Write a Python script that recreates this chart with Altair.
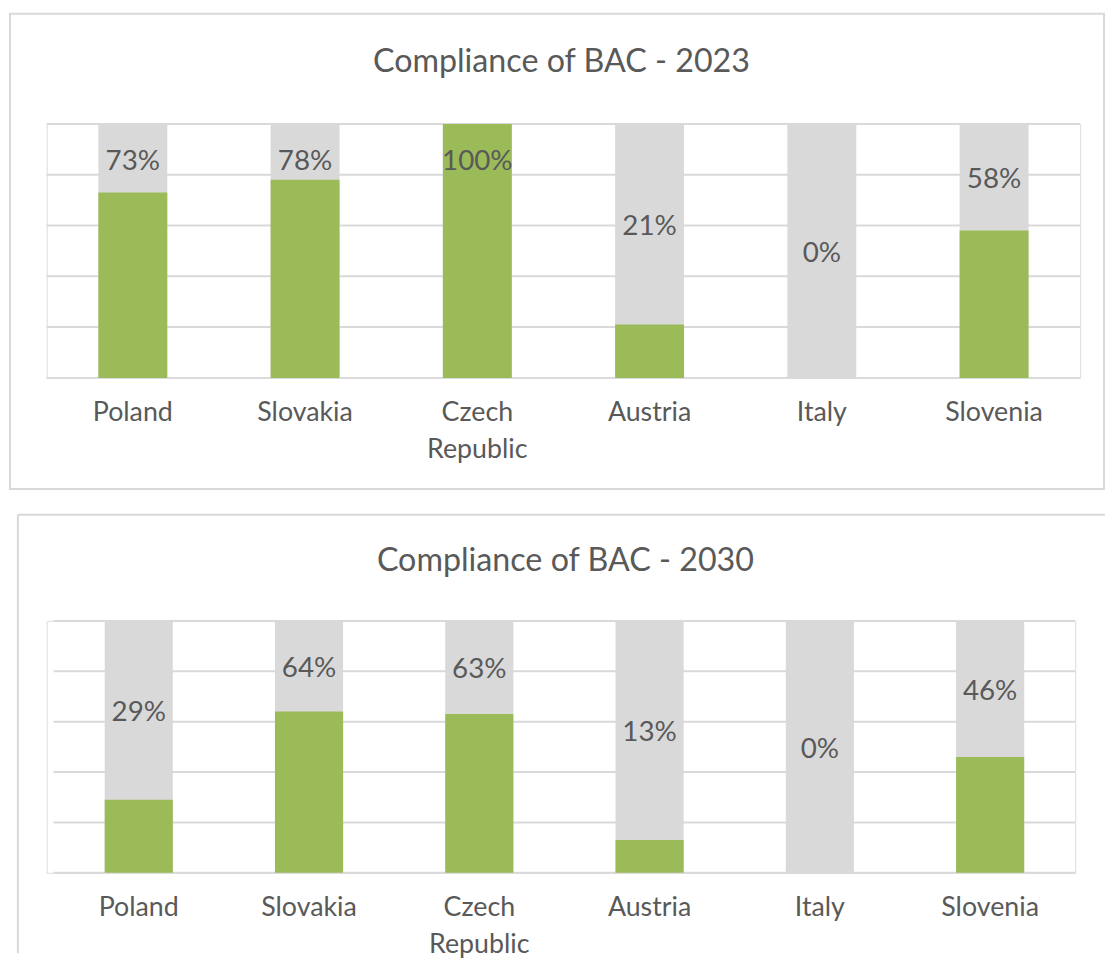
import altair as alt
import pandas as pd

countries = ["Poland", "Slovakia", "Czech Republic", "Austria", "Italy", "Slovenia"]
values_2023 = [0.73, 0.78, 1.00, 0.21, 0.00, 0.58]
values_2030 = [0.29, 0.64, 0.63, 0.13, 0.00, 0.46]
grid_values = [0, 0.2, 0.4, 0.6, 0.8, 1.0]
titles = ["Compliance of BAC - 2023", "Compliance of BAC - 2030"]

GREEN = "#9BBB59"
GRAY = "#D9D9D9"
TEXT = "#595959"
FONT = "Lato"


def make_df(vals):
    return pd.DataFrame({
        "country": countries,
        "value": vals,
        "full": [1.0] * len(vals),
        "label": [f"{round(v * 100)}%" for v in vals],
        "labpos": [min((1 + v) / 2, 0.86) for v in vals],
    })


def panel(vals, title, w, h, x0, box, closed=True):
    df = make_df(vals)
    x = alt.X("country:N", sort=countries, title=None,
              scale=alt.Scale(range=[x0, w], paddingInner=0.6, paddingOuter=0.3),
              axis=alt.Axis(labelExpr="split(datum.label, ' ')", labelAngle=0,
                            labelFontSize=27, labelColor=TEXT, labelFont=FONT,
                            labelLineHeight=37, labelPadding=22, ticks=False,
                            domain=False, grid=False))
    yscale = alt.Scale(domain=[0, 1], nice=False)
    base = alt.Chart(df)
    grid = alt.Chart(pd.DataFrame({"g": grid_values})).mark_rule(
        color=GRAY, strokeWidth=2).encode(
        y=alt.Y("g:Q", scale=yscale, axis=None), x=alt.value(x0), x2=alt.value(w))
    gray = base.mark_bar(color=GRAY).encode(x=x, y=alt.Y("full:Q", scale=yscale, axis=None))
    green = base.mark_bar(color=GREEN).encode(x=x, y=alt.Y("value:Q", scale=yscale))
    labels = base.mark_text(fontSize=28, color=TEXT, font=FONT, baseline="middle", dy=3).encode(
        x=x, y=alt.Y("labpos:Q", scale=yscale), text="label:N")
    one = alt.Chart(pd.DataFrame({"t": [title]}))
    ttl = one.mark_text(fontSize=32.5, color=TEXT, font=FONT, baseline="middle").encode(
        text="t:N", x=alt.value(box["tx"]), y=alt.value(box["ty"]))
    layers = [grid, gray, green, labels, ttl]
    if closed:
        border = one.mark_rect(fill="transparent", stroke=GRAY, strokeWidth=2).encode(
            x=alt.value(box["x1"]), x2=alt.value(box["x2"]),
            y=alt.value(box["y1"]), y2=alt.value(box["y2"]))
        layers.append(border)
    else:
        top_edge = one.mark_rule(color=GRAY, strokeWidth=2).encode(
            x=alt.value(box["x1"]), x2=alt.value(box["x2"]), y=alt.value(box["y1"]))
        left_edge = one.mark_rule(color=GRAY, strokeWidth=2).encode(
            x=alt.value(box["x1"]), y=alt.value(box["y1"]), y2=alt.value(box["y2"]))
        layers += [top_edge, left_edge]
    return alt.layer(*layers).properties(width=w, height=h)


top = panel(values_2023, titles[0], 1042, 256, 0,
            {"x1": -37, "x2": 1066, "y1": -111, "y2": 368, "tx": 519, "ty": -62})
bottom = panel(values_2030, titles[1], 1037, 254, 7,
               {"x1": -29, "x2": 1067, "y1": -107, "y2": 335, "tx": 523, "ty": -60},
               closed=False)

chart = alt.vconcat(top, bottom, spacing=22).resolve_scale(x="independent").properties(
    padding=0
).configure_view(stroke=None).configure(background="white")

chart.save("out.html", embed_options={"renderer": "svg", "actions": False})
